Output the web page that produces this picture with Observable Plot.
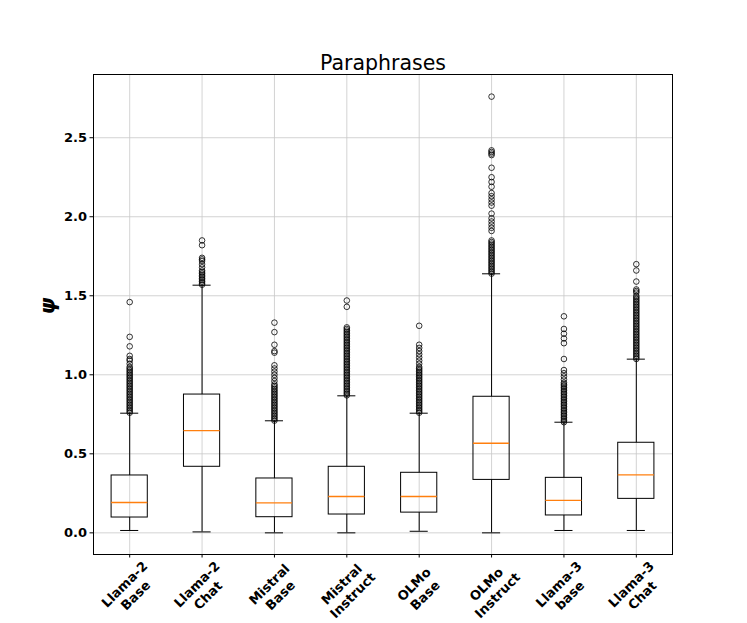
<!DOCTYPE html>
<html><head><meta charset="utf-8">
<script src="https://cdn.jsdelivr.net/npm/d3@7"></script>
<script src="https://cdn.jsdelivr.net/npm/@observablehq/plot@0.6"></script>
<style>body{margin:0;background:#fff;}</style>
</head><body><div id="chart"></div>
<script>
const categories = ["Llama-2\nBase","Llama-2\nChat","Mistral\nBase","Mistral\nInstruct","OLMo\nBase","OLMo\nInstruct","Llama-3\nbase","Llama-3\nChat"];
const whiskerLow  = [0.015, 0.006, 0.0,   0.0,   0.010, 0.0,   0.015, 0.015];
const q1          = [0.097, 0.418, 0.099, 0.116, 0.128, 0.335, 0.110, 0.215];
const median      = [0.192, 0.647, 0.190, 0.230, 0.230, 0.567, 0.205, 0.367];
const q3          = [0.363, 0.875, 0.344, 0.418, 0.380, 0.861, 0.348, 0.570];
const whiskerHigh = [0.757, 1.567, 0.709, 0.867, 0.757, 1.639, 0.700, 1.099];

const outLlama2Base = [0.76,0.77,0.78,0.79,0.80,0.81,0.82,0.83,0.84,0.85,0.86,0.87,0.88,0.89,0.90,0.91,0.92,0.93,0.94,0.95,0.96,0.97,0.98,0.99,1.00,1.01,1.02,1.03,1.04,1.05,1.07,1.09,1.10,1.12,1.18,1.24,1.46];
const outLlama2Chat = [1.57,1.58,1.59,1.60,1.61,1.62,1.63,1.64,1.65,1.66,1.68,1.70,1.72,1.73,1.74,1.82,1.85];
const outMistralBase = [0.71,0.72,0.73,0.74,0.75,0.76,0.77,0.78,0.79,0.80,0.81,0.82,0.83,0.84,0.85,0.86,0.87,0.88,0.89,0.90,0.91,0.92,0.93,0.94,0.96,0.98,1.00,1.02,1.04,1.06,1.14,1.15,1.19,1.27,1.33];
const outMistralInstruct = [0.87,0.88,0.89,0.90,0.91,0.92,0.93,0.94,0.95,0.96,0.97,0.98,0.99,1.00,1.01,1.02,1.03,1.04,1.05,1.06,1.07,1.08,1.09,1.10,1.11,1.12,1.13,1.14,1.15,1.16,1.17,1.18,1.19,1.20,1.21,1.22,1.23,1.24,1.25,1.26,1.27,1.28,1.29,1.30,1.43,1.47];
const outOlmoBase = [0.76,0.77,0.78,0.79,0.80,0.81,0.82,0.83,0.84,0.85,0.86,0.87,0.88,0.89,0.90,0.91,0.92,0.93,0.94,0.95,0.96,0.97,0.98,0.99,1.00,1.01,1.02,1.03,1.04,1.05,1.07,1.09,1.11,1.13,1.15,1.17,1.19,1.31];
const outOlmoInstruct = [1.64,1.65,1.66,1.67,1.68,1.69,1.70,1.71,1.72,1.73,1.74,1.75,1.76,1.77,1.78,1.79,1.80,1.81,1.82,1.83,1.84,1.85,1.91,1.93,1.95,1.97,1.99,2.02,2.07,2.09,2.11,2.13,2.15,2.19,2.22,2.25,2.31,2.39,2.40,2.41,2.42,2.76];
const outLlama3Base = [0.70,0.71,0.72,0.73,0.74,0.75,0.76,0.77,0.78,0.79,0.80,0.81,0.82,0.83,0.84,0.85,0.86,0.87,0.88,0.89,0.90,0.91,0.92,0.93,0.94,0.95,0.97,0.99,1.01,1.03,1.10,1.20,1.23,1.26,1.29,1.37];
const outLlama3Chat = [1.10,1.11,1.12,1.13,1.14,1.15,1.16,1.17,1.18,1.19,1.20,1.21,1.22,1.23,1.24,1.25,1.26,1.27,1.28,1.29,1.30,1.31,1.32,1.33,1.34,1.35,1.36,1.37,1.38,1.39,1.40,1.41,1.42,1.43,1.44,1.45,1.46,1.47,1.48,1.49,1.50,1.52,1.53,1.54,1.59,1.66,1.70];
const outlierLists = [outLlama2Base,outLlama2Chat,outMistralBase,outMistralInstruct,outOlmoBase,outOlmoInstruct,outLlama3Base,outLlama3Chat];

const yTicks = [0.0,0.5,1.0,1.5,2.0,2.5];

const boxes = categories.map((label,i)=>({pos:i+1,label,lo:whiskerLow[i],q1:q1[i],med:median[i],q3:q3[i],hi:whiskerHigh[i]}));
const fliers = outlierLists.flatMap((list,i)=>list.map(v=>({pos:i+1,v})));
const gridC = "#c8c8c8";

const chart = Plot.plot({
  width:747, height:623,
  marginLeft:93, marginRight:75, marginTop:74, marginBottom:69,
  style:{fontFamily:"DejaVu Sans", background:"white", color:"black"},
  x:{domain:[0.5,8.5], axis:null},
  y:{domain:[-0.137,2.9], axis:null},
  marks:[
    Plot.ruleY(yTicks,{stroke:gridC,strokeWidth:0.8}),
    Plot.ruleX(boxes,{x:"pos",stroke:gridC,strokeWidth:0.8}),
    Plot.ruleX(boxes,{x:"pos",y1:"lo",y2:"q1",stroke:"black",strokeWidth:1}),
    Plot.ruleX(boxes,{x:"pos",y1:"q3",y2:"hi",stroke:"black",strokeWidth:1}),
    Plot.ruleY(boxes,{y:"lo",x1:d=>d.pos-0.125,x2:d=>d.pos+0.125,stroke:"black",strokeWidth:1}),
    Plot.ruleY(boxes,{y:"hi",x1:d=>d.pos-0.125,x2:d=>d.pos+0.125,stroke:"black",strokeWidth:1}),
    Plot.rect(boxes,{x1:d=>d.pos-0.25,x2:d=>d.pos+0.25,y1:"q1",y2:"q3",fill:"none",stroke:"black",strokeWidth:1}),
    Plot.ruleY(boxes,{y:"med",x1:d=>d.pos-0.25,x2:d=>d.pos+0.25,stroke:"#ff7f0e",strokeWidth:1.3}),
    Plot.dot(fliers,{x:"pos",y:"v",r:2.8,stroke:"black",strokeWidth:0.8,fill:"none"}),
    Plot.frame({stroke:"black",strokeWidth:1}),
    Plot.axisY(yTicks,{tickFormat:d=>d.toFixed(1),fontWeight:"bold",fontSize:13,tickSize:3.5,tickPadding:3,label:null}),
    Plot.axisX(boxes.map(d=>d.pos),{tickFormat:()=>"",tickSize:3.5,label:null}),
    Plot.text(boxes,{x:"pos",text:"label",frameAnchor:"bottom",dy:35,rotate:-45,textAnchor:"middle",lineAnchor:"middle",fontWeight:"bold",fontSize:13,lineHeight:1.2}),
    Plot.text(["Paraphrases"],{frameAnchor:"top",dy:-5,lineAnchor:"bottom",fontSize:20.5}),
    Plot.text(["ψ"],{frameAnchor:"left",dx:-45,rotate:-90,fontSize:21,fontWeight:"bold",fontStyle:"italic"})
  ]
});
document.getElementById("chart").appendChild(chart);
</script>
</body></html>
